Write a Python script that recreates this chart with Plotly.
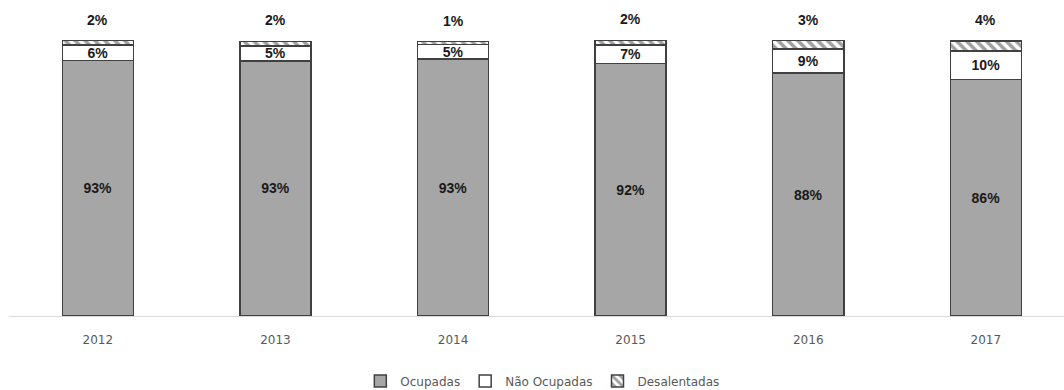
import plotly.graph_objects as go

years = ["2012", "2013", "2014", "2015", "2016", "2017"]
ocupadas = [92.9, 92.8, 93.4, 91.9, 88.3, 86.0]
nao_ocupadas = [5.6, 5.4, 5.4, 6.7, 8.8, 10.4]
desalentadas = [1.6, 1.7, 1.0, 1.6, 3.0, 3.6]

line_col = "#404040"
txt_font = dict(family="Liberation Sans", size=14, color="#1a1a1a", weight="bold")

fig = go.Figure()
fig.add_trace(go.Bar(
    x=years, y=ocupadas, name="Ocupadas",
    marker=dict(color="#a6a6a6", line=dict(color=line_col, width=1.5)),
    texttemplate="%{y:.0f}%", textposition="inside", insidetextanchor="middle",
    textfont=txt_font, constraintext="none",
))
fig.add_trace(go.Bar(
    x=years, y=nao_ocupadas, name="Não Ocupadas",
    marker=dict(color="#ffffff", line=dict(color=line_col, width=1.5)),
    texttemplate="%{y:.0f}%", textposition="inside", insidetextanchor="middle",
    textfont=txt_font, constraintext="none",
))
fig.add_trace(go.Bar(
    x=years, y=desalentadas, name="Desalentadas",
    marker=dict(color="#ffffff", line=dict(color=line_col, width=1.5),
                pattern=dict(shape="\\", fgcolor=line_col, bgcolor="#ffffff",
                             size=7, solidity=0.5)),
))

totals = [a + b + c for a, b, c in zip(ocupadas, nao_ocupadas, desalentadas)]
for i, (t, d) in enumerate(zip(totals, desalentadas)):
    fig.add_annotation(x=i, y=t, xref="x", yref="y", text=f"{d:.0f}%", showarrow=False,
                       yanchor="middle", yshift=21, font=txt_font)

fig.update_layout(
    barmode="stack", bargap=0.6,
    width=1064, height=390,
    margin=dict(l=9, r=0, t=14, b=74, autoexpand=False),
    plot_bgcolor="white", paper_bgcolor="white",
    font=dict(family="DejaVu Sans", size=12, color="#595959"),
    legend=dict(orientation="h", x=0.506, xanchor="center",
                yref="container", y=9 / 390, yanchor="middle",
                font=dict(family="DejaVu Sans", size=12, color="#595959"),
                traceorder="normal", itemwidth=30),
    xaxis=dict(type="category", range=[-0.5, 5.44], showline=True, linecolor="#d9d9d9",
               linewidth=1, ticks="outside", ticklen=13, tickcolor="rgba(0,0,0,0)",
               tickfont=dict(family="DejaVu Sans", size=12, color="#595959"), showgrid=False),
    yaxis=dict(range=[0, 109.82], visible=False, showgrid=False),
)

fig.write_html("out.html")
